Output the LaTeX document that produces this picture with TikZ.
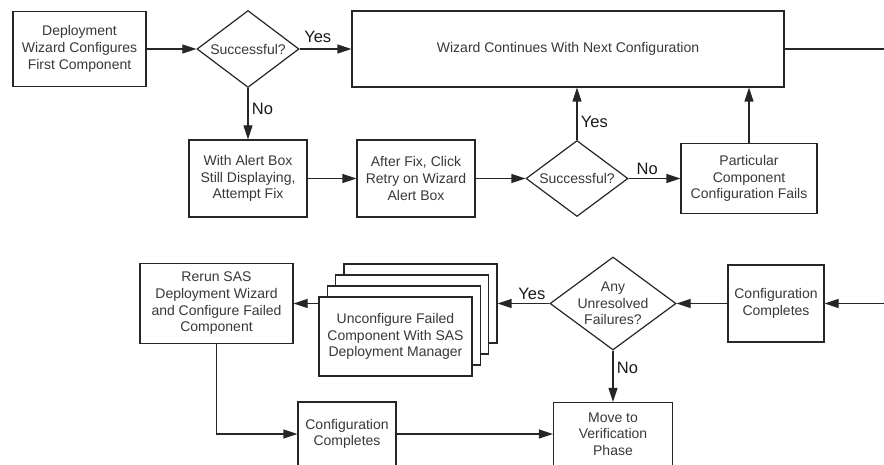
\documentclass[tikz,border=0pt]{standalone}
\usepackage{fontspec}
\setmainfont{Liberation Sans}
\usetikzlibrary{calc,positioning,shapes.geometric,arrows.meta}

\begin{document}
\begin{tikzpicture}[x=1pt,y=-1pt,>={Triangle[length=14pt,width=9pt]},
    font=\fontsize{14}{16.7}\selectfont,
    box/.style={draw=black!85,line width=1.2pt,fill=white,text=black!78,align=center,inner sep=0pt},
    decision/.style={box,diamond,shape aspect=1.32,inner sep=-4pt},
    lbl/.style={font=\fontsize{16.5}{18}\selectfont,text=black!90},
    link/.style={draw=black!85,line width=1.2pt},
    arr/.style={link,->}]
  \useasboundingbox (0,0) rectangle (884,465);
  \clip (0,0) rectangle (884,465);
  \node[box,minimum width=133pt,minimum height=75pt] (first) at (79.5,49) {Deployment\\Wizard Configures\\First Component};
  \node[decision,minimum width=102pt,minimum height=77pt] (ok1) at (248,49) {Successful?};
  \node[box,minimum width=432pt,minimum height=76pt] (next) at (568,49) {Wizard Continues With Next Configuration};
  \node[box,minimum width=118pt,minimum height=77pt] (fix) at (248,178.5) {With Alert Box\\Still Displaying,\\Attempt Fix};
  \node[box,minimum width=118pt,minimum height=77pt] (retry) at (416,178.5) {After Fix, Click\\Retry on Wizard\\Alert Box};
  \node[decision,minimum width=102pt,minimum height=76pt] (ok2) at (577,178.5) {Successful?};
  \node[box,minimum width=136pt,minimum height=70pt] (fails) at (749,178.5) {Particular\\Component\\Configuration Fails};
  \coordinate (outR) at (890,49);
  \coordinate (inR) at (890,303.5);
  \node[box,minimum width=96pt,minimum height=77pt] (done1) at (776,303.5) {Configuration\\Completes};
  \node[decision,shape aspect=1.35,minimum width=126pt,minimum height=93pt] (any) at (613,303.5) {Any\\Unresolved\\Failures?};
  \foreach \i in {3,2,1}
    \node[box,minimum width=153pt,minimum height=79pt] (unconf\i) at ($(395.5,336.5)+(\i*8.33,-\i*11)$) {};
  \node[box,minimum width=153pt,minimum height=79pt] (unconf) at (395.5,336.5) {Unconfigure Failed\\Component With SAS\\Deployment Manager};
  \node[box,minimum width=153pt,minimum height=80pt] (rerun) at (216.5,303.5) {Rerun SAS\\Deployment Wizard\\and Configure Failed\\Component};
  \node[box,minimum width=98pt,minimum height=64pt] (done2) at (347,434) {Configuration\\Completes};
  \node[box,minimum width=119pt,minimum height=63pt] (verify) at (613,434) {Move to\\Verification\\Phase};

  \draw[arr] (first) -- (ok1);
  \draw[arr] (ok1) -- node[lbl,pos=0.35,above=2pt] {Yes} (next);
  \draw[link] (next) -- (outR);
  \draw[arr] (ok1) -- node[lbl,pos=0.4,right] {No} (fix);
  \draw[arr] (fix) -- (retry);
  \draw[arr] (retry) -- (ok2);
  \draw[arr] (ok2) -- node[lbl,pos=0.35,right] {Yes} (ok2 |- next.south);
  \draw[arr] (ok2) -- node[lbl,pos=0.36,above] {No} (fails);
  \draw[arr] (fails) -- (fails |- next.south);
  \draw[arr] (inR) -- (done1);
  \draw[arr] (done1) -- (any);
  \draw[arr] (any) -- node[lbl,pos=0.34,above] {Yes} (unconf3);
  \draw[arr] (unconf.west |- unconf3) -- (rerun);
  \draw[arr] (rerun) |- (done2);
  \draw[arr] (done2) -- (verify);
  \draw[arr] (any) -- node[lbl,pos=0.34,right] {No} (verify);
\end{tikzpicture}
\end{document}
